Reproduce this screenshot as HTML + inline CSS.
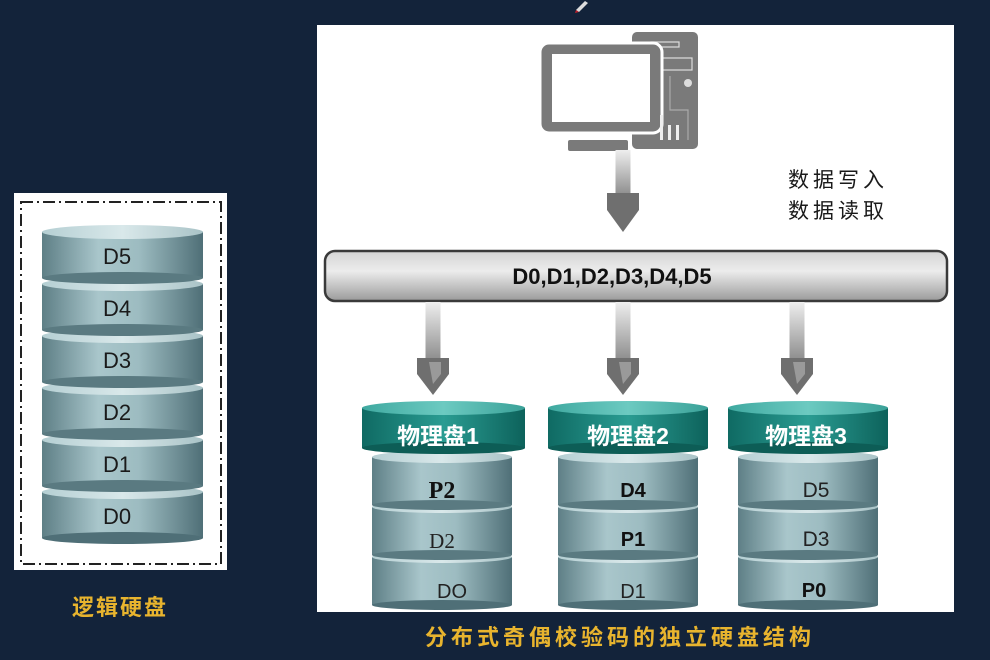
<!DOCTYPE html>
<html><head><meta charset="utf-8"><style>
html,body{margin:0;padding:0;background:#13233a;}
svg{display:block}
text{font-family:"Liberation Sans","Noto Sans CJK SC",sans-serif;}
</style></head><body>
<svg width="990" height="660" viewBox="0 0 990 660" xmlns="http://www.w3.org/2000/svg">
<defs>
<linearGradient id="cyl" x1="0" x2="1" y1="0" y2="0">
<stop offset="0" stop-color="#5e7f86"/><stop offset="0.35" stop-color="#a9c6cb"/><stop offset="0.6" stop-color="#9dbcc1"/><stop offset="1" stop-color="#4f6f77"/>
</linearGradient>
<linearGradient id="cyltop" x1="0" x2="1"><stop offset="0" stop-color="#b5cfd3"/><stop offset="0.5" stop-color="#d9e8ea"/><stop offset="1" stop-color="#a9c3c7"/></linearGradient>
<linearGradient id="teal" x1="0" x2="1"><stop offset="0" stop-color="#0f6a63"/><stop offset="0.5" stop-color="#2a9c92"/><stop offset="1" stop-color="#0d625b"/></linearGradient>
<linearGradient id="tealtop" x1="0" x2="1"><stop offset="0" stop-color="#3fa9a0"/><stop offset="0.5" stop-color="#6ccac1"/><stop offset="1" stop-color="#3aa198"/></linearGradient>
<linearGradient id="bus" x1="0" x2="0" y1="0" y2="1"><stop offset="0" stop-color="#d4d4d4"/><stop offset="0.4" stop-color="#ececec"/><stop offset="0.75" stop-color="#bdbdbd"/><stop offset="1" stop-color="#9a9a9a"/></linearGradient>
<linearGradient id="shaft" x1="0" x2="0" y1="0" y2="1"><stop offset="0" stop-color="#eeeeee"/><stop offset="1" stop-color="#8d8d8d"/></linearGradient>
<g id="arrow">
<rect x="-7.5" y="0" width="15" height="58" fill="url(#shaft)"/>
<polygon points="-16,56 16,56 16,72 0,93 -16,72" fill="#6f6f6f"/>
<polygon points="-4,60 8,60 8,72 0,82" fill="#9a9a9a"/>
</g>
</defs>

<!-- left logical disk -->
<rect x="14" y="193" width="213" height="377" fill="#fff"/>
<rect x="21" y="202" width="200" height="362" fill="none" stroke="#222" stroke-width="2" stroke-dasharray="12,4,2,4"/>
<g>
<rect x="42" y="492" width="161" height="46" fill="url(#cyl)"/><ellipse cx="122.5" cy="492" rx="80.5" ry="7" fill="url(#cyltop)"/><ellipse cx="122.5" cy="538" rx="80.5" ry="6" fill="#4f6f77"/><text x="117" y="524" font-size="22" text-anchor="middle" fill="#1a1a1a">D0</text>
<rect x="42" y="440" width="161" height="46" fill="url(#cyl)"/><ellipse cx="122.5" cy="440" rx="80.5" ry="7" fill="url(#cyltop)"/><ellipse cx="122.5" cy="486" rx="80.5" ry="6" fill="#5a7a81"/><text x="117" y="472" font-size="22" text-anchor="middle" fill="#1a1a1a">D1</text>
<rect x="42" y="388" width="161" height="46" fill="url(#cyl)"/><ellipse cx="122.5" cy="388" rx="80.5" ry="7" fill="url(#cyltop)"/><ellipse cx="122.5" cy="434" rx="80.5" ry="6" fill="#5a7a81"/><text x="117" y="420" font-size="22" text-anchor="middle" fill="#1a1a1a">D2</text>
<rect x="42" y="336" width="161" height="46" fill="url(#cyl)"/><ellipse cx="122.5" cy="336" rx="80.5" ry="7" fill="url(#cyltop)"/><ellipse cx="122.5" cy="382" rx="80.5" ry="6" fill="#5a7a81"/><text x="117" y="368" font-size="22" text-anchor="middle" fill="#1a1a1a">D3</text>
<rect x="42" y="284" width="161" height="46" fill="url(#cyl)"/><ellipse cx="122.5" cy="284" rx="80.5" ry="7" fill="url(#cyltop)"/><ellipse cx="122.5" cy="330" rx="80.5" ry="6" fill="#5a7a81"/><text x="117" y="316" font-size="22" text-anchor="middle" fill="#1a1a1a">D4</text>
<rect x="42" y="232" width="161" height="46" fill="url(#cyl)"/><ellipse cx="122.5" cy="232" rx="80.5" ry="7" fill="url(#cyltop)"/><ellipse cx="122.5" cy="278" rx="80.5" ry="6" fill="#5a7a81"/><text x="117" y="264" font-size="22" text-anchor="middle" fill="#1a1a1a">D5</text>
</g>
<text x="120" y="615" font-size="22" text-anchor="middle" fill="#e8b42e" letter-spacing="2" font-weight="bold">逻辑硬盘</text>

<!-- right panel -->
<rect x="317" y="25" width="637" height="587" fill="#fff"/>

<!-- computer -->
<rect x="632" y="32" width="66" height="117" rx="5" fill="#7a7a7a"/>
<rect x="651" y="42" width="28" height="5" fill="none" stroke="#ddd" stroke-width="1.2"/>
<rect x="662" y="58" width="30" height="12" fill="none" stroke="#ddd" stroke-width="1.2"/>
<circle cx="688" cy="83" r="4" fill="#ddd"/>
<path d="M670 76 V110 H688 V140" fill="none" stroke="#aaa" stroke-width="1.2"/>
<rect x="540" y="43" width="122" height="90" rx="9" fill="#7a7a7a" stroke="#fff" stroke-width="3"/>
<rect x="552" y="54" width="98" height="68" fill="#fff"/>
<rect x="568" y="140" width="60" height="11" rx="2" fill="#7a7a7a"/>
<rect x="660" y="115" width="3" height="25" fill="#eee"/><rect x="668" y="125" width="3" height="15" fill="#eee"/><rect x="676" y="125" width="3" height="15" fill="#eee"/>

<g transform="translate(623,150)"><rect x="-7.5" y="0" width="15" height="45" fill="url(#shaft)"/><polygon points="-16,43 16,43 16,60 0,82 -16,60" fill="#6f6f6f"/></g>

<text x="788" y="187" font-size="21" fill="#1a1a1a" letter-spacing="4">数据写入</text>
<text x="788" y="218" font-size="21" fill="#1a1a1a" letter-spacing="4">数据读取</text>

<!-- bus -->
<rect x="325" y="251" width="622" height="50" rx="10" fill="url(#bus)" stroke="#3a3a3a" stroke-width="2.5"/>
<text x="612" y="284" font-size="22" font-weight="bold" text-anchor="middle" fill="#111">D0,D1,D2,D3,D4,D5</text>

<use href="#arrow" x="433" y="302"/>
<use href="#arrow" x="623" y="302"/>
<use href="#arrow" x="797" y="302"/>

<!-- disk 1 -->
<rect x="372" y="557" width="140" height="48" fill="url(#cyl)"/><ellipse cx="442" cy="557" rx="70" ry="6" fill="url(#cyltop)"/><ellipse cx="442" cy="605" rx="70" ry="5" fill="#4f6f77"/>
<rect x="372" y="507" width="140" height="48" fill="url(#cyl)"/><ellipse cx="442" cy="507" rx="70" ry="6" fill="url(#cyltop)"/><ellipse cx="442" cy="555" rx="70" ry="5" fill="#5a7a81"/>
<rect x="372" y="457" width="140" height="48" fill="url(#cyl)"/><ellipse cx="442" cy="457" rx="70" ry="6" fill="url(#cyltop)"/><ellipse cx="442" cy="505" rx="70" ry="5" fill="#5a7a81"/>
<rect x="362" y="408" width="163" height="40" fill="url(#teal)"/><ellipse cx="443.5" cy="408" rx="81.5" ry="7" fill="url(#tealtop)"/><ellipse cx="443.5" cy="448" rx="81.5" ry="6" fill="#0d5d56"/>
<text x="438" y="444" font-size="23" font-weight="bold" text-anchor="middle" fill="#fff">物理盘1</text>
<text x="442" y="498" font-size="24" font-weight="bold" text-anchor="middle" fill="#111" style="font-family:'Liberation Serif',serif">P2</text>
<text x="442" y="548" font-size="21" text-anchor="middle" fill="#222" style="font-family:'Liberation Serif',serif">D2</text>
<text x="452" y="598" font-size="20" text-anchor="middle" fill="#222">DO</text>
<!-- disk 2 -->
<rect x="558" y="557" width="140" height="48" fill="url(#cyl)"/><ellipse cx="628" cy="557" rx="70" ry="6" fill="url(#cyltop)"/><ellipse cx="628" cy="605" rx="70" ry="5" fill="#4f6f77"/>
<rect x="558" y="507" width="140" height="48" fill="url(#cyl)"/><ellipse cx="628" cy="507" rx="70" ry="6" fill="url(#cyltop)"/><ellipse cx="628" cy="555" rx="70" ry="5" fill="#5a7a81"/>
<rect x="558" y="457" width="140" height="48" fill="url(#cyl)"/><ellipse cx="628" cy="457" rx="70" ry="6" fill="url(#cyltop)"/><ellipse cx="628" cy="505" rx="70" ry="5" fill="#5a7a81"/>
<rect x="548" y="408" width="160" height="40" fill="url(#teal)"/><ellipse cx="628" cy="408" rx="80" ry="7" fill="url(#tealtop)"/><ellipse cx="628" cy="448" rx="80" ry="6" fill="#0d5d56"/>
<text x="628" y="444" font-size="23" font-weight="bold" text-anchor="middle" fill="#fff">物理盘2</text>
<text x="633" y="497" font-size="20" font-weight="bold" text-anchor="middle" fill="#111">D4</text>
<text x="633" y="546" font-size="20" font-weight="bold" text-anchor="middle" fill="#111">P1</text>
<text x="633" y="598" font-size="20" text-anchor="middle" fill="#222">D1</text>
<!-- disk 3 -->
<rect x="738" y="557" width="140" height="48" fill="url(#cyl)"/><ellipse cx="808" cy="557" rx="70" ry="6" fill="url(#cyltop)"/><ellipse cx="808" cy="605" rx="70" ry="5" fill="#4f6f77"/>
<rect x="738" y="507" width="140" height="48" fill="url(#cyl)"/><ellipse cx="808" cy="507" rx="70" ry="6" fill="url(#cyltop)"/><ellipse cx="808" cy="555" rx="70" ry="5" fill="#5a7a81"/>
<rect x="738" y="457" width="140" height="48" fill="url(#cyl)"/><ellipse cx="808" cy="457" rx="70" ry="6" fill="url(#cyltop)"/><ellipse cx="808" cy="505" rx="70" ry="5" fill="#5a7a81"/>
<rect x="728" y="408" width="160" height="40" fill="url(#teal)"/><ellipse cx="808" cy="408" rx="80" ry="7" fill="url(#tealtop)"/><ellipse cx="808" cy="448" rx="80" ry="6" fill="#0d5d56"/>
<text x="806" y="444" font-size="23" font-weight="bold" text-anchor="middle" fill="#fff">物理盘3</text>
<text x="816" y="497" font-size="21" text-anchor="middle" fill="#222">D5</text>
<text x="816" y="546" font-size="21" text-anchor="middle" fill="#222">D3</text>
<text x="814" y="597" font-size="20" font-weight="bold" text-anchor="middle" fill="#111">P0</text>

<text x="620" y="645" font-size="22" text-anchor="middle" fill="#e8b42e" letter-spacing="4" font-weight="bold">分布式奇偶校验码的独立硬盘结构</text>
<path d="M576 10 L585 1 L588 3 L579 12 Z" fill="#ddd"/><path d="M576 10 L579 12 L575 13 Z" fill="#c0202a"/>
</svg>
</body></html>
